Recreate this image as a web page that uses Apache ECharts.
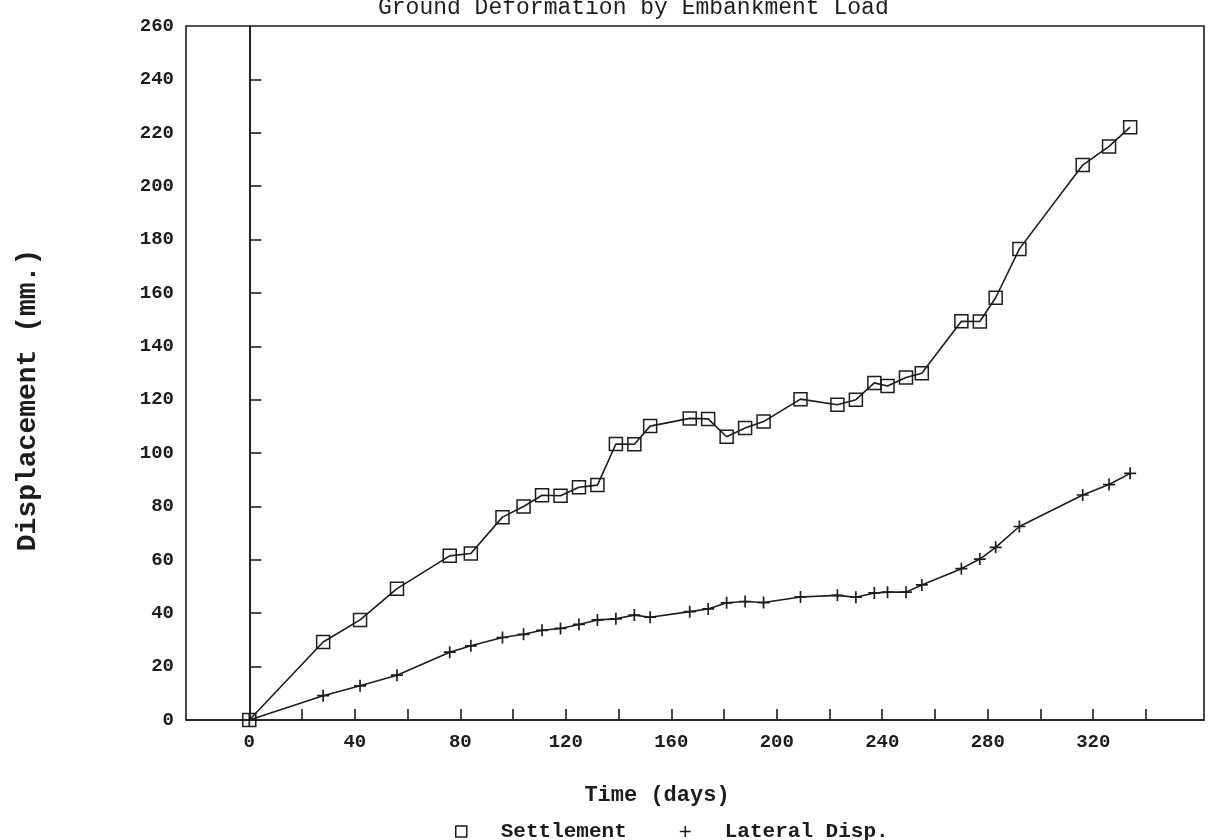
<!DOCTYPE html>
<html>
<head>
<meta charset="utf-8">
<title>Ground Deformation by Embankment Load</title>
<script src="https://cdn.jsdelivr.net/npm/echarts@6/dist/echarts.min.js"></script>
<style>
  html, body { margin: 0; padding: 0; background: #ffffff; }
  #chart { width: 1208px; height: 840px; }
</style>
</head>
<body>
<div id="chart"></div>
<script>
// Measurement days (both instruments read on the same days)
const days = [0, 28, 42, 56, 76, 84, 96, 104, 111, 118, 125, 132, 139, 146, 152,
  167, 174, 181, 188, 195, 209, 223, 230, 237, 242, 249, 255, 270, 277, 283,
  292, 316, 326, 334];

// Settlement (mm.)
const settlement = [0, 29.2, 37.5, 49.2, 61.5, 62.4, 76.0, 80.0, 84.2, 84.0, 87.2,
  88.0, 103.4, 103.3, 110.1, 113.0, 112.8, 106.1, 109.4, 111.8, 120.2, 118.1,
  120.0, 126.3, 125.1, 128.3, 129.9, 149.4, 149.3, 158.2, 176.5, 207.9, 214.9, 222.1];

// Lateral displacement (mm.)
const lateral = [0, 9.1, 12.8, 16.8, 25.4, 27.8, 30.9, 32.1, 33.6, 34.3, 35.8,
  37.5, 37.9, 39.3, 38.5, 40.6, 41.6, 43.9, 44.4, 44.0, 46.1, 46.7, 46.0, 47.6,
  47.9, 47.9, 50.6, 56.7, 60.3, 64.7, 72.5, 84.3, 88.2, 92.4];

// Axis ticks and labels
const xTicks = [20, 40, 60, 80, 100, 120, 140, 160, 180, 200, 220, 240, 260, 280, 300, 320, 340];
const xLabels = [0, 40, 80, 120, 160, 200, 240, 280, 320];
const yTicks = [20, 40, 60, 80, 100, 120, 140, 160, 180, 200, 220, 240];
const yLabels = [0, 20, 40, 60, 80, 100, 120, 140, 160, 180, 200, 220, 240, 260];

const INK = '#1c1c1c';
const MONO = '"Liberation Mono", "DejaVu Sans Mono", monospace';
const PLUS = 'path://M4.3,0H5.7V4.3H10V5.7H5.7V10H4.3V5.7H0V4.3H4.3Z';
const HOLLOW = { color: 'rgba(255,255,255,0)', borderColor: INK, borderWidth: 1.5 };

const pairs = (ys) => days.map((d, i) => [d, ys[i]]);

const chart = echarts.init(document.getElementById('chart'), null, { renderer: 'canvas' });

chart.setOption({
  animation: false,
  backgroundColor: '#ffffff',
  title: {
    text: 'Ground Deformation by Embankment Load',
    left: 373,
    top: -9,
    textStyle: { fontFamily: MONO, fontSize: 23, fontWeight: 'normal', color: INK }
  },
  grid: {
    left: 186, top: 26, width: 1018, height: 694,
    show: true, borderColor: INK, borderWidth: 1.6, backgroundColor: 'transparent'
  },
  legend: {
    left: 450,
    top: 816,
    itemWidth: 11,
    itemHeight: 11,
    itemGap: 53,
    selectedMode: false,
    textStyle: { fontFamily: MONO, fontSize: 21, fontWeight: 'bold', color: INK, padding: [0, 0, 0, 29] },
    data: [
      { name: 'Settlement', icon: 'rect', itemStyle: HOLLOW },
      { name: 'Lateral Disp.', icon: PLUS, itemStyle: { color: INK, borderWidth: 0 } }
    ]
  },
  xAxis: {
    type: 'value',
    min: -24,
    max: 362,
    name: 'Time (days)',
    nameLocation: 'middle',
    nameGap: 64,
    nameTextStyle: { fontFamily: MONO, fontSize: 22, fontWeight: 'bold', color: INK, padding: [0, 76, 0, 0] },
    axisLine: { show: true, onZero: false, lineStyle: { color: INK, width: 1.6 } },
    axisTick: { show: true, inside: true, length: 11, customValues: xTicks, lineStyle: { color: INK, width: 1.6 } },
    axisLabel: { customValues: xLabels, margin: 13, fontFamily: MONO, fontSize: 19, fontWeight: 'bold', color: INK },
    splitLine: { show: false }
  },
  yAxis: {
    type: 'value',
    min: 0,
    max: 260,
    interval: 20,
    name: 'Displacement (mm.)',
    nameLocation: 'middle',
    nameRotate: 90,
    nameGap: 144,
    nameTextStyle: { fontFamily: MONO, fontSize: 28, fontWeight: 'bold', color: INK, padding: [0, 54, 0, 0] },
    axisLine: { show: true, lineStyle: { color: INK, width: 1.6 } },
    axisTick: { show: true, inside: true, length: 12, customValues: yTicks, lineStyle: { color: INK, width: 1.6 } },
    axisLabel: { customValues: yLabels, margin: 12, fontFamily: MONO, fontSize: 19, fontWeight: 'bold', color: INK },
    splitLine: { show: false }
  },
  series: [
    {
      name: 'Settlement',
      type: 'line',
      data: pairs(settlement),
      symbol: 'rect',
      symbolSize: 13,
      showAllSymbol: true,
      lineStyle: { color: INK, width: 1.6 },
      itemStyle: HOLLOW,
      emphasis: { disabled: true },
      markLine: {
        silent: true,
        symbol: ['none', 'none'],
        label: { show: false },
        lineStyle: { color: INK, width: 1.6, type: 'solid' },
        data: [{ xAxis: 0 }]
      }
    },
    {
      name: 'Lateral Disp.',
      type: 'line',
      data: pairs(lateral),
      symbol: PLUS,
      symbolSize: 12,
      showAllSymbol: true,
      lineStyle: { color: INK, width: 1.6 },
      itemStyle: { color: INK },
      emphasis: { disabled: true }
    }
  ]
});
</script>
</body>
</html>
